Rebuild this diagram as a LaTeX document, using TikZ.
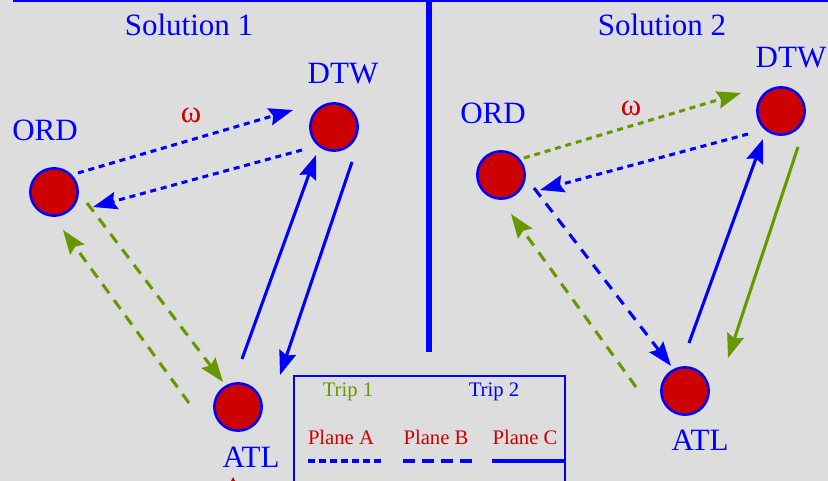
\documentclass[tikz,border=0pt]{standalone}
\usepackage{fontspec}
\setmainfont{Liberation Serif}[Ligatures=TeX]
\newfontfamily\labelface{Liberation Serif}
\usetikzlibrary{arrows.meta}
\definecolor{bgcol}{RGB}{221,221,221}
\definecolor{cityred}{RGB}{204,0,0}
\definecolor{tripgreen}{RGB}{102,153,0}
\definecolor{lineblue}{RGB}{0,0,255}

\begin{document}
\begin{tikzpicture}[x=0.75pt,y=-0.75pt,
  city/.style={circle,fill=cityred,draw=lineblue,line width=1.9pt,
    minimum size=35.5pt,inner sep=0pt},
  citylabel/.style={text=lineblue,font=\labelface\fontsize{23.25}{28}\selectfont,inner sep=0pt},
  omegalabel/.style={text=cityred,font=\labelface\fontsize{23.25}{28}\selectfont,inner sep=0pt},
  legtext/.style={font=\labelface\fontsize{15.5}{18}\selectfont,inner sep=0pt,anchor=base},
  route/.style={line width=2.3pt,-{Stealth[length=18pt,width=13pt,inset=2.5pt]}},
  shortdash/.style={dash pattern=on 4.5pt off 3.6pt},
  longdash/.style={dash pattern=on 8.25pt off 6.3pt},
  legline/.style={line width=2.6pt,lineblue},
]
\useasboundingbox (0,0) rectangle (828,481);
\clip (0,0) rectangle (828,481);
\fill[bgcol] (0,0) rectangle (828,481);

% frame lines
\draw[lineblue,line width=1.9pt] (13,1) -- (830,1);
\draw[lineblue,line width=3.8pt] (429,-2) -- (429,352);

% titles
\node[citylabel] (t1) at (189,25) {Solution 1};
\node[citylabel] (t2) at (662,25) {Solution 2};

% ---- Solution 1 ----
\node[city] (ord1) at (54,192) {};
\node[city] (dtw1) at (334,127) {};
\node[city] (atl1) at (238,407) {};
\node[citylabel] (ord1l) at (45,130) {ORD};
\node[citylabel] (dtw1l) at (343,74) {DTW};
\node[citylabel] (atl1l) at (251,457) {ATL};
\node[omegalabel] (w1) at (191,115) {ω};

\draw[route,lineblue,shortdash] ([shift={(24,-19)}]ord1.center) -- ([shift={(-41,-17)}]dtw1.center);
\draw[route,lineblue,shortdash] ([shift={(-32,23)}]dtw1.center) -- ([shift={(39,15)}]ord1.center);
\draw[route,tripgreen,longdash] ([shift={(33,11)}]ord1.center) -- ([shift={(-15,-25)}]atl1.center);
\draw[route,tripgreen,longdash] ([shift={(-49,-4)}]atl1.center) -- ([shift={(9,38)}]ord1.center);
\draw[route,lineblue] ([shift={(4,-48)}]atl1.center) -- ([shift={(-18,28)}]dtw1.center);
\draw[route,lineblue] ([shift={(18,35)}]dtw1.center) -- ([shift={(42,-32)}]atl1.center);

% ---- Solution 2 ----
\node[city] (ord2) at (501,175) {};
\node[city] (dtw2) at (781,111) {};
\node[city] (atl2) at (685,391) {};
\node[citylabel] (ord2l) at (493,113) {ORD};
\node[citylabel] (dtw2l) at (791,58) {DTW};
\node[citylabel] (atl2l) at (700,440) {ATL};
\node[omegalabel] (w2) at (631,108) {ω};

\draw[route,tripgreen,shortdash] ([shift={(23,-17)}]ord2.center) -- ([shift={(-40,-18)}]dtw2.center);
\draw[route,lineblue,shortdash] ([shift={(-33,23)}]dtw2.center) -- ([shift={(39,15)}]ord2.center);
\draw[route,lineblue,longdash] ([shift={(33,13)}]ord2.center) -- ([shift={(-14,-25)}]atl2.center);
\draw[route,tripgreen,longdash] ([shift={(-49,-4)}]atl2.center) -- ([shift={(10,39)}]ord2.center);
\draw[route,lineblue] ([shift={(4,-48)}]atl2.center) -- ([shift={(-18,28)}]dtw2.center);
\draw[route,tripgreen] ([shift={(17,36)}]dtw2.center) -- ([shift={(43,-33)}]atl2.center);

% ---- legend ----
\draw[lineblue,line width=1.7pt] (294,500) -- (294,376) -- (565,376) -- (565,500);
\node[legtext,text=tripgreen] (trip1) at (348,396) {Trip 1};
\node[legtext,text=lineblue] (trip2) at (494,396) {Trip 2};
\node[legtext,text=cityred] (pa) at (341,444) {Plane A};
\node[legtext,text=cityred] (pb) at (436,444) {Plane B};
\node[legtext,text=cityred] (pc) at (525,444) {Plane C};
\coordinate (la1) at (308,461); \coordinate (la2) at (381,461);
\coordinate (lb1) at (403,461); \coordinate (lb2) at (477,461);
\coordinate (lc1) at (492,461); \coordinate (lc2) at (566,461);
\draw[legline,dash pattern=on 5.6pt off 2.6pt] (la1) -- (la2);
\draw[legline,dash pattern=on 9pt off 5.3pt] (lb1) -- (lb2);
\draw[legline] (lc1) -- (lc2);

% small red mark below ATL
\fill[cityred] (229,485) -- (233,477) -- (237,485) -- cycle;
\end{tikzpicture}
\end{document}
